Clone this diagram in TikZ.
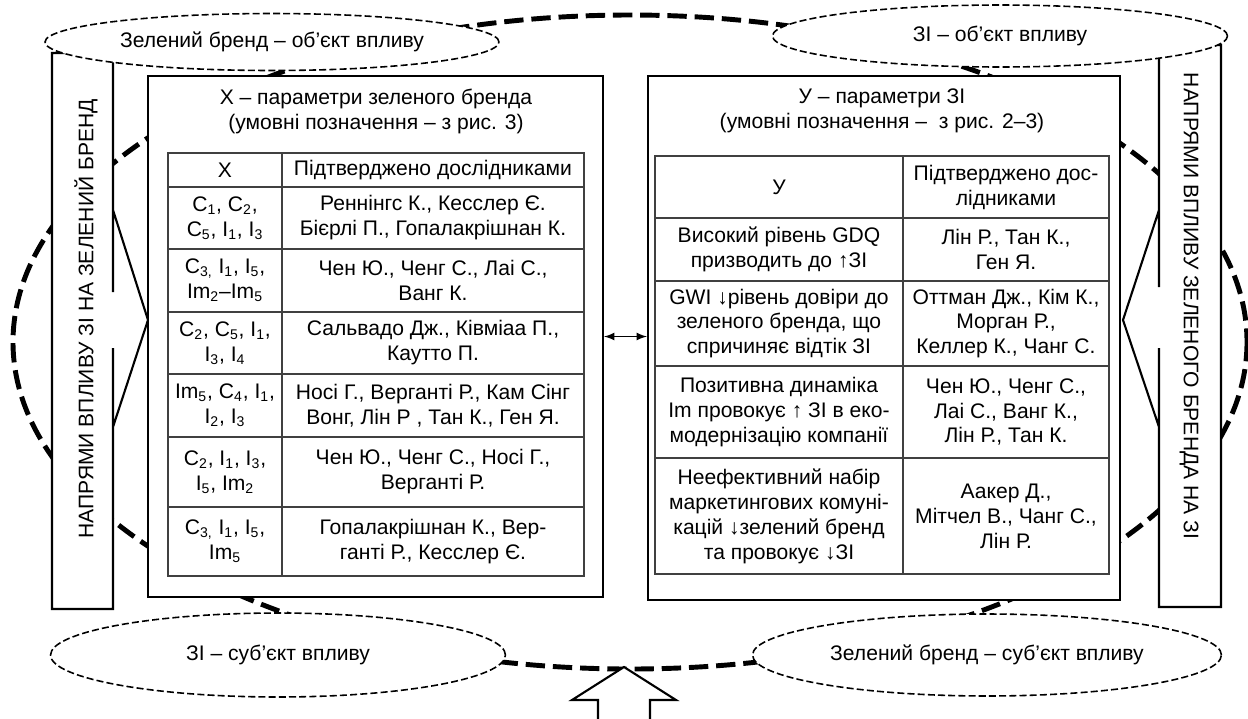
\documentclass[tikz,border=0pt]{standalone}
\usepackage{fontspec}
\setmainfont{Liberation Sans}
\usetikzlibrary{shapes,arrows}

\begin{document}
\begin{tikzpicture}[x=0.02cm,y=-0.02cm,>=latex,font=\fontsize{12}{14.2}\selectfont]
\tikzstyle{cyc}=[line width=2.8pt,dash pattern=on 11pt off 4.5pt]
\tikzstyle{ovl}=[ellipse,draw,fill=white,line width=0.9pt,dash pattern=on 4pt off 1.8pt,inner sep=0pt]
\tikzstyle{frame}=[draw,fill=white,line width=1.3pt,inner sep=0pt]
\tikzstyle{bar}=[draw,fill=white,line width=1.2pt]
\tikzstyle{grid}=[line width=0.7pt,draw=black!75]
\tikzstyle{cell}=[align=center,inner sep=0pt]
\useasboundingbox (0,0) rectangle (1248,718);
% the big dashed cycle behind everything
\draw[cyc] (630,342) ellipse [x radius=617,y radius=327];
% bars with arrow heads
\filldraw[bar] (113,292) -- (113,53) -- (52,53) -- (52,609) -- (113,609) -- (113,348)
  -- (113,427) -- (148,320) -- (113,210) -- cycle;
\filldraw[bar] (1159,287) -- (1159,45) -- (1221,45) -- (1221,607) -- (1159,607) -- (1159,348)
  -- (1159,427) -- (1123,320) -- (1159,210) -- cycle;
\node[rotate=90] (LB) at (86,319) {НАПРЯМИ ВПЛИВУ ЗІ НА ЗЕЛЕНИЙ БРЕНД};
\node[rotate=-90] (RB) at (1189,306) {НАПРЯМИ ВПЛИВУ ЗЕЛЕНОГО БРЕНДА НА ЗІ};
% frames
\node[frame,minimum width=9.1cm,minimum height=10.42cm] (X) at (375.5,336.5) {};
\node[frame,minimum width=9.44cm,minimum height=10.48cm] (Y) at (884,338) {};
\draw[<->,line width=1pt] (X.east) -- (X.east -| Y.west);
% ellipses
\node[ovl,minimum width=9.08cm,minimum height=1.14cm] (ZO) at (272,42) {Зелений бренд – об’єкт впливу};
\node[ovl,minimum width=9.1cm,minimum height=1.24cm] (IO) at (1000,36) {ЗІ – об’єкт впливу};
\node[ovl,minimum width=9.1cm,minimum height=1.68cm] (IS) at (278,655) {ЗІ – суб’єкт впливу};
\node[ovl,minimum width=9.38cm,minimum height=1.64cm] (ZS) at (987,655) {Зелений бренд – суб’єкт впливу};
% left table
\node[cell] (XH) at (376,111) {Х – параметри зеленого бренда\\(умовні позначення – з рис. 3)};
\draw[grid] (168,153) rectangle (584,576) (282,153) -- (282,576);
\draw[grid] (168,187) -- (584,187) (168,249) -- (584,249) (168,312) -- (584,312)
  (168,374) -- (584,374) (168,437) -- (584,437) (168,507) -- (584,507);
\node[cell] (x0) at (225,170) {Х};
\node[cell] (r0) at (433,170) {Підтверджено дослідниками};
\node[cell] (x1) at (225,218) {C\textsubscript{1}, C\textsubscript{2},\\C\textsubscript{5}, I\textsubscript{1}, I\textsubscript{3}};
\node[cell] (r1) at (433,218) {Реннінгс К., Кесслер Є.\\Бієрлі П., Гопалакрішнан К.};
\node[cell] (x2) at (225,280.5) {C\textsubscript{3,} I\textsubscript{1}, I\textsubscript{5},\\Im\textsubscript{2}–Im\textsubscript{5}};
\node[cell] (r2) at (433,280.5) {Чен Ю., Ченг С., Лаі С.,\\Ванг К.};
\node[cell] (x3) at (225,343) {C\textsubscript{2}, C\textsubscript{5}, I\textsubscript{1},\\I\textsubscript{3}, I\textsubscript{4}};
\node[cell] (r3) at (433,343) {Сальвадо Дж., Ківміаа П.,\\Каутто П.};
\node[cell] (x4) at (225,405.5) {Im\textsubscript{5}, C\textsubscript{4}, I\textsubscript{1},\\I\textsubscript{2}, I\textsubscript{3}};
\node[cell] (r4) at (433,405.5) {Носі Г., Верганті Р., Кам Сінг\\Вонг, Лін Р , Тан К., Ген Я.};
\node[cell] (x5) at (225,472) {C\textsubscript{2}, I\textsubscript{1}, I\textsubscript{3},\\I\textsubscript{5}, Im\textsubscript{2}};
\node[cell] (r5) at (433,472) {Чен Ю., Ченг С., Носі Г.,\\Верганті Р.};
\node[cell] (x6) at (225,541.5) {C\textsubscript{3,} I\textsubscript{1}, I\textsubscript{5},\\Im\textsubscript{5}};
\node[cell] (r6) at (433,541.5) {Гопалакрішнан К., Вер-\\ганті Р., Кесслер Є.};
% right table
\node[cell] (YH) at (882,111) {У – параметри ЗІ\\(умовні позначення –\ \ з рис. 2–3)};
\draw[grid] (655,156) rectangle (1109,574) (903,156) -- (903,574);
\draw[grid] (655,218) -- (1109,218) (655,281) -- (1109,281) (655,366) -- (1109,366)
  (655,458) -- (1109,458);
\node[cell] (y0) at (779,187) {У};
\node[cell] (s0) at (1006,187) {Підтверджено дос-\\лідниками};
\node[cell] (y1) at (779,249.5) {Високий рівень GDQ\\призводить до ↑ЗІ};
\node[cell] (s1) at (1006,249.5) {Лін Р., Тан К.,\\Ген Я.};
\node[cell] (y2) at (779,323.5) {GWI ↓рівень довіри до\\зеленого бренда, що\\спричиняє відтік ЗІ};
\node[cell] (s2) at (1006,323.5) {Оттман Дж., Кім К.,\\Морган Р.,\\Келлер К., Чанг С.};
\node[cell] (y3) at (779,412) {Позитивна динаміка\\Im провокує ↑ ЗІ в еко-\\модернізацію компанії};
\node[cell] (s3) at (1006,412) {Чен Ю., Ченг С.,\\Лаі С., Ванг К.,\\Лін Р., Тан К.};
\node[cell] (y4) at (779,516) {Неефективний набір\\маркетингових комуні-\\кацій ↓зелений бренд\\та провокує ↓ЗІ};
\node[cell] (s4) at (1006,516) {Аакер Д.,\\Мітчел В., Чанг С.,\\Лін Р.};
% block arrow at the bottom
\filldraw[bar] (598,722) -- (598,700) -- (572,700) -- (624,667) -- (676,700) -- (650,700) -- (650,722);
\end{tikzpicture}
\end{document}
